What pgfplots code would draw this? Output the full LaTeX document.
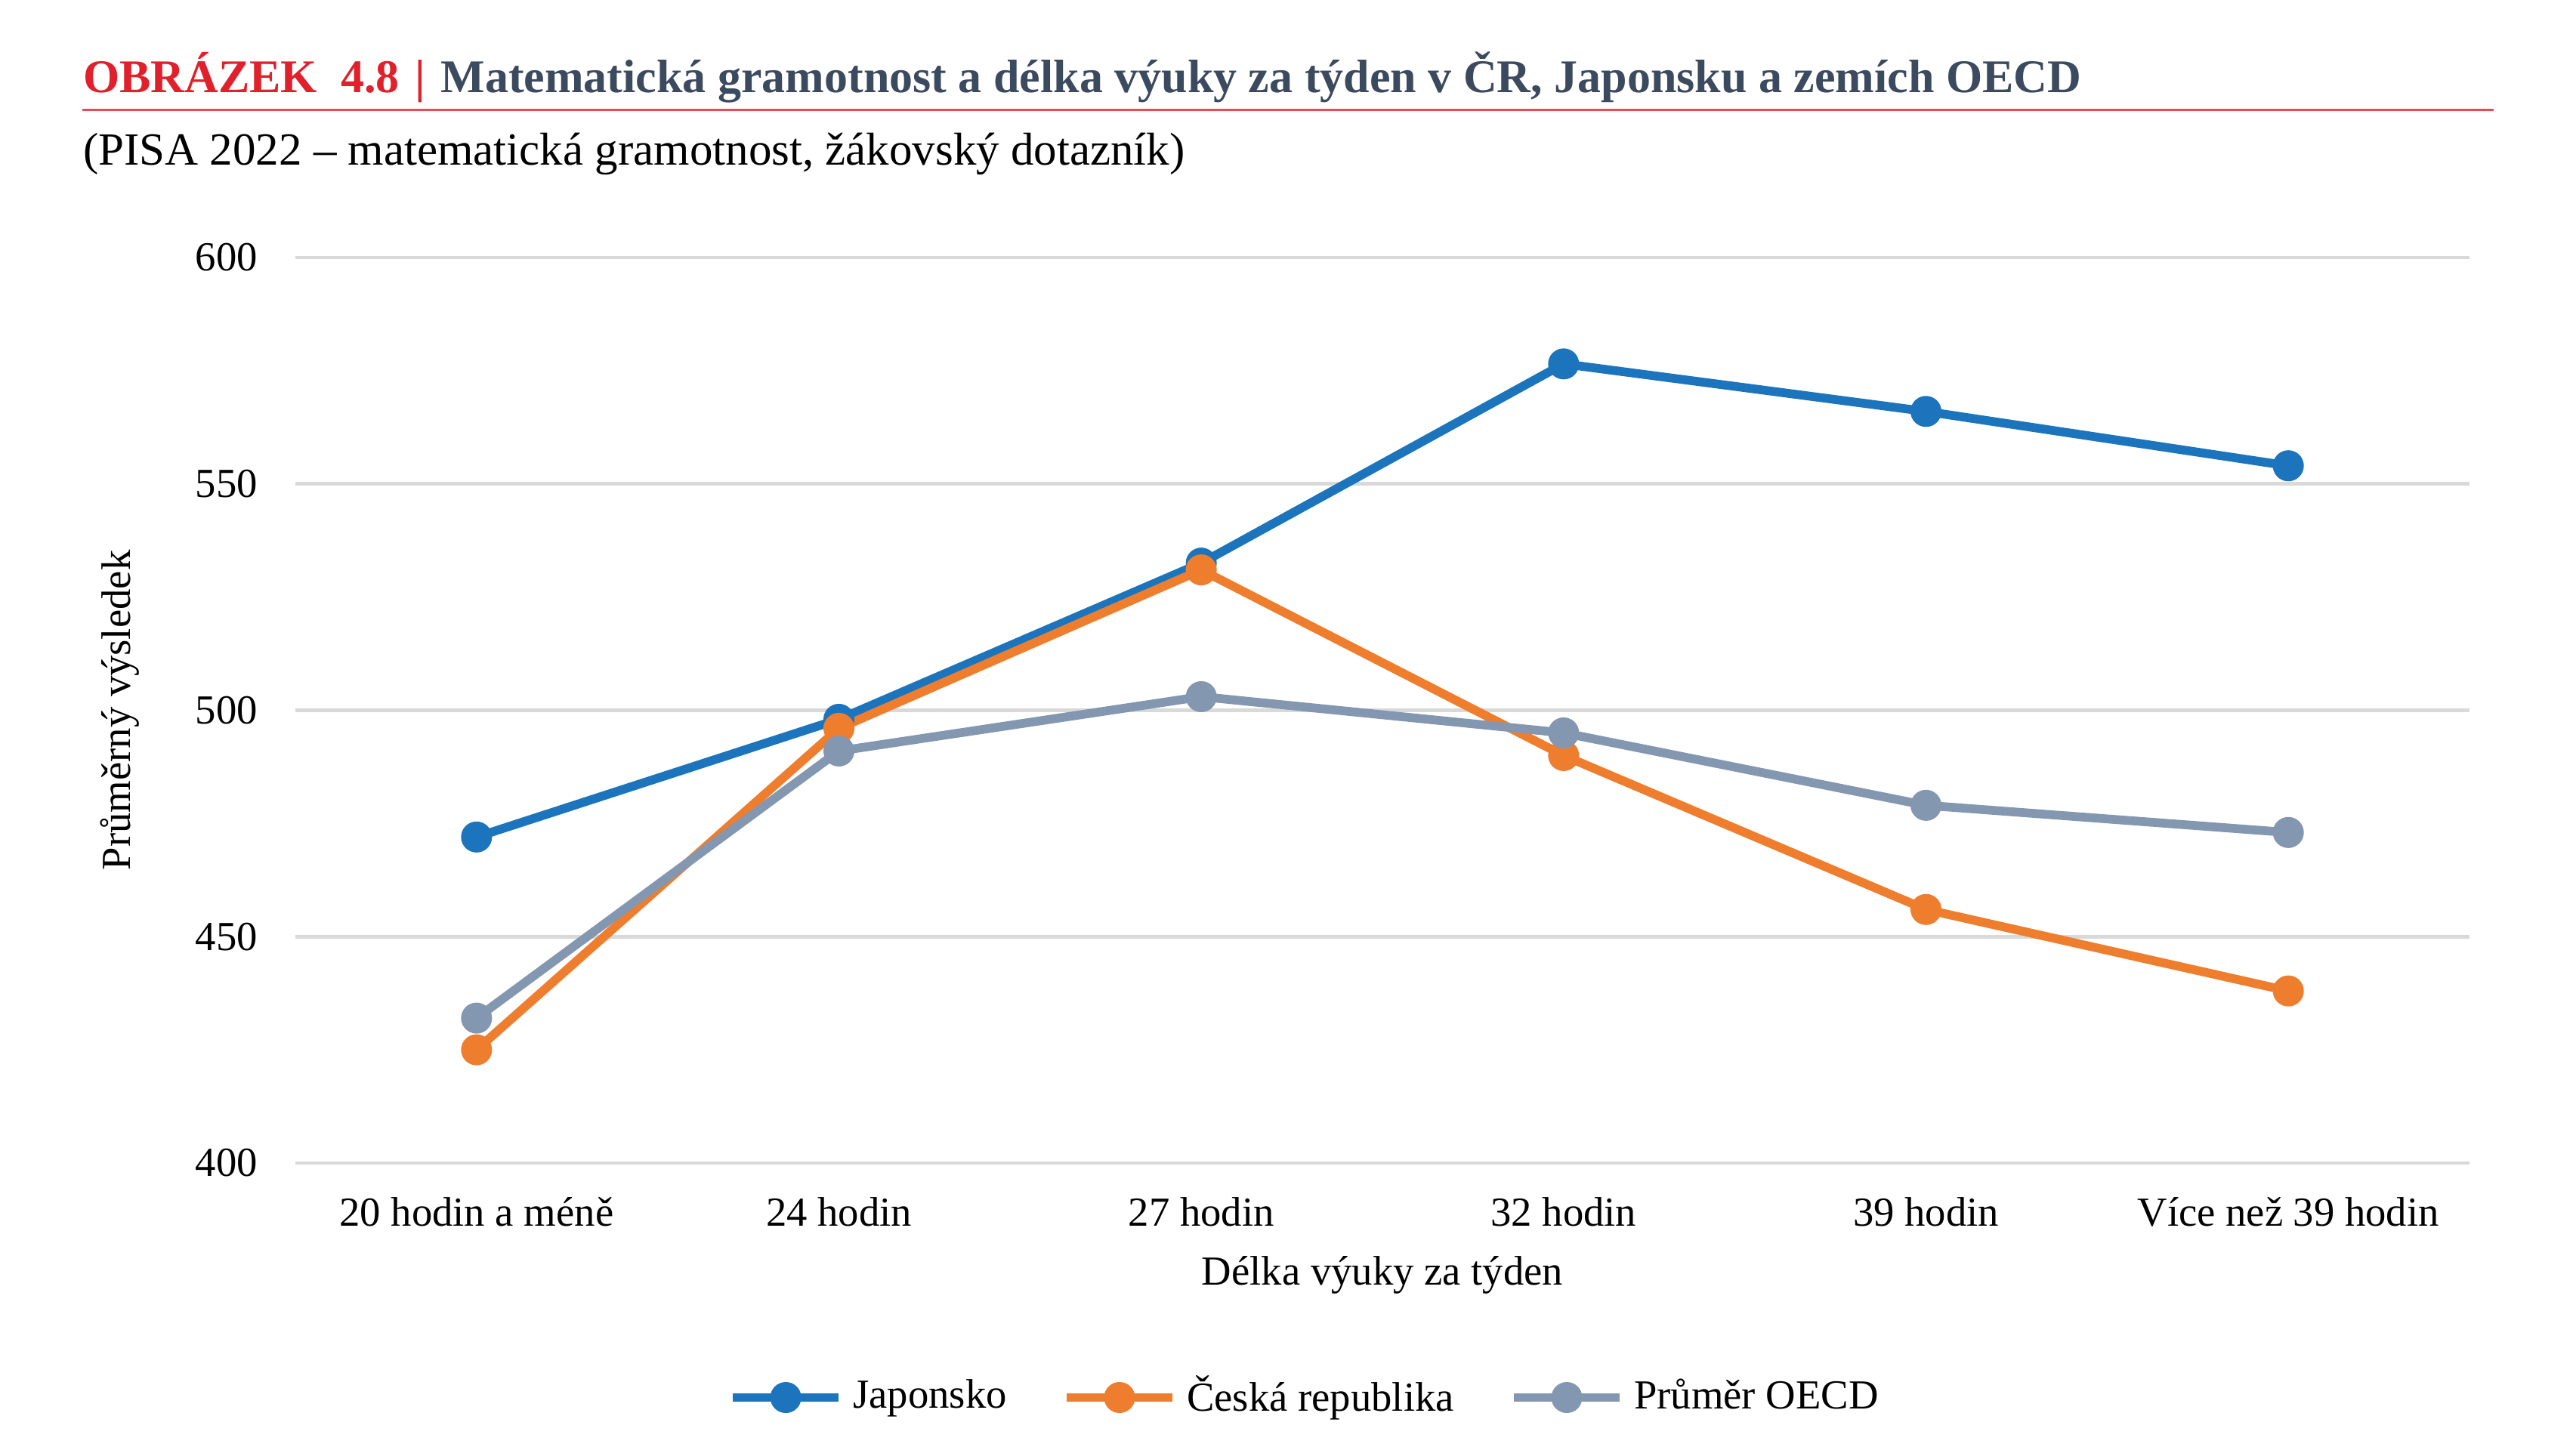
\documentclass[border=0pt]{standalone}
\usepackage{pgfplots}
\pgfplotsset{compat=1.18}
\usepackage{fontspec}
\setmainfont{Liberation Serif}
\definecolor{jpblue}{HTML}{1C75BC}
\definecolor{czorange}{HTML}{EF7D2E}
\definecolor{oecdgray}{HTML}{8497B0}
\definecolor{gridgray}{HTML}{D9D9D9}
\definecolor{titlered}{HTML}{E0202A}
\definecolor{titleslate}{HTML}{3B4A5E}
\begin{document}
\begin{tikzpicture}
\path[use as bounding box] (0,0) rectangle (511.5pt,288pt);
\node[anchor=base west, inner sep=0pt, font=\fontsize{9.3}{11}\selectfont\bfseries] at (16.3pt,269.6pt)
  {\textcolor{titlered}{OBRÁZEK\,\,\,4.8\,\,|}\,\,\textcolor{titleslate}{Matematická gramotnost a délka výuky za týden v ČR, Japonsku a zemích OECD}};
\draw[titlered!80, line width=0.45pt] (16.3pt,266.1pt) -- (495.2pt,266.1pt);
\node[anchor=base west, inner sep=0pt, font=\fontsize{9.15}{11}\selectfont] at (16.3pt,255.2pt)
  {(PISA 2022 – matematická gramotnost, žákovský dotazník)};
\begin{axis}[
  at={(58.65pt,57pt)}, anchor=south west,
  scale only axis, width=431.7pt, height=179.85pt,
  xmin=-0.5, xmax=5.5, ymin=400, ymax=600,
  xtick={0,1,2,3,4,5},
  xticklabels={20 hodin a méně,24 hodin,27 hodin,32 hodin,39 hodin,Více než 39 hodin},
  ytick={400,450,500,550,600},
  axis line style={draw=none},
  major tick length=0pt,
  ymajorgrids, grid style={gridgray, line width=0.7pt},
  tick label style={font=\fontsize{8.2}{10}\selectfont},
  /pgf/number format/assume math mode=true,
  yticklabel style={xshift=-4pt},
  xticklabel style={yshift=-3.3pt},
  label style={font=\fontsize{8.2}{10}\selectfont},
  xlabel={Délka výuky za týden},
  ylabel={Průměrný výsledek},
  xlabel style={at={(axis description cs:0.5,-0.1234)}, anchor=center},
  ylabel style={at={(axis description cs:-0.0806,0.5)}, anchor=center},
  legend columns=3,
  legend style={at={(axis description cs:0.466,-0.259)}, anchor=center, draw=none,
    font=\fontsize{8.2}{10}\selectfont,
    /tikz/every even column/.append style={column sep=9pt}},
  legend image code/.code={\draw[mark repeat=2,mark phase=2,#1] plot coordinates {(0pt,0pt) (10.5pt,0pt) (21pt,0pt)};},
  every axis plot/.append style={line width=1.75pt, mark=*, mark size=2.2pt},
  clip=false,
]
\addplot[color=jpblue, mark options={fill=jpblue, draw=jpblue}] coordinates {(0,472) (1,498) (2,532.5) (3,576.5) (4,566) (5,554)};
\addlegendentry{Japonsko}
\addplot[color=czorange, mark options={fill=czorange, draw=czorange}] coordinates {(0,425) (1,496) (2,531) (3,490) (4,456) (5,438)};
\addlegendentry{Česká republika}
\addplot[color=oecdgray, mark options={fill=oecdgray, draw=oecdgray}] coordinates {(0,432) (1,491) (2,503) (3,495) (4,479) (5,473)};
\addlegendentry{Průměr OECD}
\end{axis}
\end{tikzpicture}
\end{document}
